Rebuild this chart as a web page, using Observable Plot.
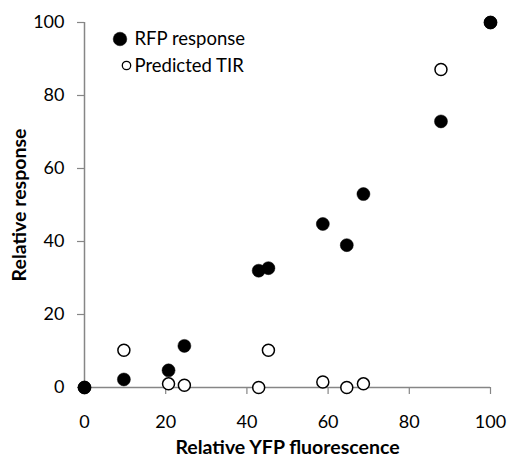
<!DOCTYPE html>
<html>
<head>
<meta charset="utf-8">
<script src="https://cdn.jsdelivr.net/npm/d3@7"></script>
<script src="https://cdn.jsdelivr.net/npm/@observablehq/plot@0.6"></script>
<style>
  html, body { margin: 0; padding: 0; background: #fff; }
  #wrap { position: relative; width: 509px; height: 458px; font-family: Lato, "Open Sans", sans-serif; }
  #wrap svg.plot text { font-family: Lato, "Open Sans", sans-serif; }
  g[aria-label="x-axis label"] text, g[aria-label="y-axis label"] text { font-weight: bold; font-size: 19.5px; }
  .legend { position: absolute; left: 0; top: 0; pointer-events: none; }
</style>
</head>
<body>
<div id="wrap"></div>
<script>
// Data
const yfp      = [0, 9.7, 20.7, 24.6, 42.9, 45.3, 58.7, 64.6, 68.7, 87.8, 100];
const rfp      = [0, 2.2, 4.7, 11.4, 32.0, 32.7, 44.8, 39.0, 53.0, 72.9, 100];
const tir      = [0, 10.2, 1.0, 0.6, 0.0, 10.2, 1.5, 0.0, 1.0, 87.1, 100];
const seriesNames = ["RFP response", "Predicted TIR"];
const xTicks = [0, 20, 40, 60, 80, 100];
const yTicks = [0, 20, 40, 60, 80, 100];

const rows = yfp.map((x, i) => ({x, rfp: rfp[i], tir: tir[i]}));
const axisGrey = "#868686";

const chart = Plot.plot({
  width: 509,
  height: 458,
  marginLeft: 84,
  marginRight: 19,
  marginTop: 22,
  marginBottom: 71,
  style: {fontSize: "18px", background: "#fff", color: "#000"},
  x: {domain: [0, 100]},
  y: {domain: [0, 100]},
  marks: [
    Plot.ruleY([0], {stroke: axisGrey, strokeWidth: 1.5}),
    Plot.ruleX([0], {stroke: axisGrey, strokeWidth: 1.5}),
    Plot.axisX(xTicks, {
      tickSize: 7, tickPadding: 21, stroke: axisGrey, fill: "#000", strokeWidth: 1.2,
      fontSize: 18,
      label: "Relative YFP fluorescence", labelAnchor: "center", labelArrow: "none", labelOffset: 66
    }),
    Plot.axisY(yTicks, {
      tickSize: 7, tickPadding: 13, stroke: axisGrey, fill: "#000", strokeWidth: 1.2,
      fontSize: 18,
      label: "Relative response", labelAnchor: "center", labelArrow: "none", labelOffset: 72
    }),
    Plot.dot(rows, {x: "x", y: "tir", r: 6, fill: "#fff", stroke: "#000", strokeWidth: 1.5}),
    Plot.dot(rows, {x: "x", y: "rfp", r: 6.5, fill: "#000", stroke: "#000", strokeWidth: 0.5})
  ]
});
chart.classList.add("plot");
const wrap = document.getElementById("wrap");
wrap.appendChild(chart);

// Legend overlay
const ns = "http://www.w3.org/2000/svg";
const leg = document.createElementNS(ns, "svg");
leg.setAttribute("class", "legend");
leg.setAttribute("width", 509);
leg.setAttribute("height", 458);
const items = [
  {cx: 120, cy: 39, r: 6.8, fill: "#000", sw: 0.5, label: seriesNames[0]},
  {cx: 126.5, cy: 65.5, r: 4.2, fill: "#fff", sw: 1.3, label: seriesNames[1]}
];
items.forEach(it => {
  const c = document.createElementNS(ns, "circle");
  c.setAttribute("cx", it.cx); c.setAttribute("cy", it.cy); c.setAttribute("r", it.r);
  c.setAttribute("fill", it.fill); c.setAttribute("stroke", "#000"); c.setAttribute("stroke-width", it.sw);
  leg.appendChild(c);
  const t = document.createElementNS(ns, "text");
  t.setAttribute("x", 134.5); t.setAttribute("y", it.cy);
  t.setAttribute("dy", "0.35em");
  t.setAttribute("font-size", "18.5");
  t.setAttribute("font-family", "Lato, 'Open Sans', sans-serif");
  t.setAttribute("fill", "#000");
  t.textContent = it.label;
  leg.appendChild(t);
});
wrap.appendChild(leg);
</script>
</body>
</html>
